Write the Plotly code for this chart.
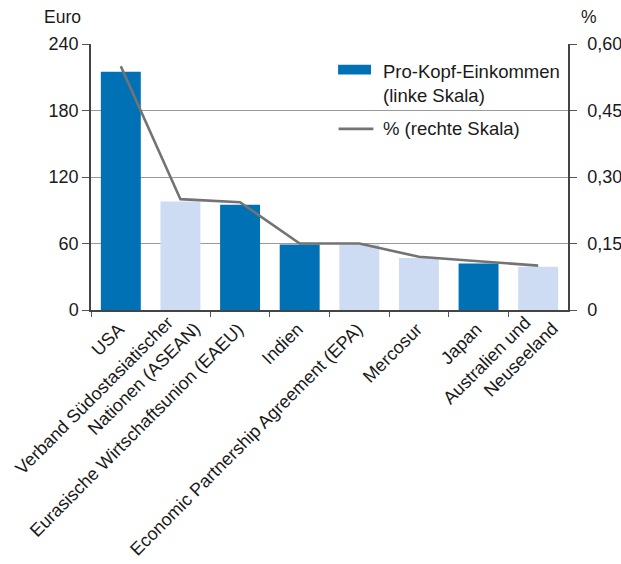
import plotly.graph_objects as go

categories = [
    "USA",
    "Verband Südostasiatischer<br>Nationen (ASEAN)",
    "Eurasische Wirtschaftsunion (EAEU)",
    "Indien",
    "Economic Partnership Agreement (EPA)",
    "Mercosur",
    "Japan",
    "Australien und<br>Neuseeland",
]
income_eur = [215, 98, 95, 59, 59, 47, 42, 39]
percent = [0.55, 0.25, 0.243, 0.15, 0.15, 0.12, 0.11, 0.10]
bar_shade = ["dark", "light", "dark", "dark", "light", "light", "dark", "light"]

left_ticks = [0, 60, 120, 180, 240]
right_ticks = [0, 0.15, 0.30, 0.45, 0.60]
right_labels = ["0", "0,15", "0,30", "0,45", "0,60"]

DARK = "#0071b5"
LIGHT = "#cddcf2"
LINE = "#737373"
FONT = "Liberation Sans, Arial, sans-serif"
TXT = "#1a1a1a"
XFONT = 18

single = [c for c in categories if "<br>" not in c]
multi = [c for c in categories if "<br>" in c]
# first line of two-line labels ends a little earlier (stair-stepped like the original)
multi_text = [c.replace("<br>", "\u00a0\u00a0\u00a0<br>") for c in multi]

fig = go.Figure()
fig.add_trace(go.Bar(
    x=categories, y=income_eur,
    marker=dict(color=[DARK if s == "dark" else LIGHT for s in bar_shade], line=dict(width=0)),
    width=0.67, showlegend=False,
))
fig.add_trace(go.Scatter(
    x=categories, y=percent, xaxis="x2", yaxis="y2", mode="lines",
    line=dict(color=LINE, width=2.6), showlegend=False,
))

fig.update_layout(
    width=621, height=564,
    margin=dict(l=91, r=53, t=44, b=254),
    paper_bgcolor="white", plot_bgcolor="white",
    font=dict(family=FONT, size=16, color=TXT),
    xaxis=dict(
        type="category", tickangle=-45, showgrid=False, automargin=False,
        showline=True, linecolor="#444", linewidth=1.5,
        ticks="outside", tickson="boundaries", ticklen=5, tickcolor="#555",
        tickfont=dict(size=XFONT, color=TXT), range=[-0.5, 7.5],
        tickmode="array", tickvals=single, ticktext=single,
        ticklabelshift=-2,
    ),
    xaxis2=dict(
        type="category", overlaying="x", anchor="y", side="bottom",
        tickangle=-45, showgrid=False, automargin=False, showline=False,
        ticks="", zeroline=False, range=[-0.5, 7.5],
        tickfont=dict(size=XFONT, color=TXT),
        tickmode="array", tickvals=multi, ticktext=multi_text,
        ticklabelshift=-2, ticklabelstandoff=-13,
    ),
    yaxis=dict(
        range=[0, 240], tickvals=left_ticks, showgrid=True, gridcolor="#9a9a9a", gridwidth=1.2,
        showline=True, linecolor="#444", linewidth=1.5, automargin=False,
        ticks="outside", ticklen=7, tickcolor="#555", zeroline=False,
        tickfont=dict(size=18, color=TXT),
    ),
    yaxis2=dict(
        range=[0, 0.6], overlaying="y", side="right", anchor="x", automargin=False,
        tickvals=right_ticks, ticktext=right_labels, showgrid=False,
        showline=True, linecolor="#444", linewidth=1.5,
        ticks="outside", ticklen=7, tickcolor="#555", zeroline=False,
        tickfont=dict(size=18, color=TXT), ticklabelstandoff=7,
    ),
    bargap=0.33,
)

# axis unit labels
fig.add_annotation(text="Euro", xref="paper", yref="paper", x=-0.102, y=1.1,
                   xanchor="left", yanchor="middle", showarrow=False,
                   font=dict(size=17.5, color=TXT))
fig.add_annotation(text="%", xref="paper", yref="paper", x=1.045, y=1.1,
                   xanchor="center", yanchor="middle", showarrow=False,
                   font=dict(size=17.5, color=TXT))

# custom legend
fig.add_shape(type="rect", xref="paper", yref="paper",
              x0=0.518, x1=0.587, y0=0.885, y1=0.922,
              fillcolor=DARK, line=dict(width=0))
fig.add_annotation(text="Pro-Kopf-Einkommen<br>(linke Skala)", xref="paper", yref="paper",
                   x=0.608, y=0.945, xanchor="left", yanchor="top", align="left",
                   showarrow=False, font=dict(size=18.5, color=TXT))
fig.add_shape(type="line", xref="paper", yref="paper",
              x0=0.519, x1=0.592, y0=0.681, y1=0.681,
              line=dict(color=LINE, width=2.6))
fig.add_annotation(text="% (rechte Skala)", xref="paper", yref="paper",
                   x=0.608, y=0.681, xanchor="left", yanchor="middle", align="left",
                   showarrow=False, font=dict(size=18.5, color=TXT))

fig.write_html("out.html")
